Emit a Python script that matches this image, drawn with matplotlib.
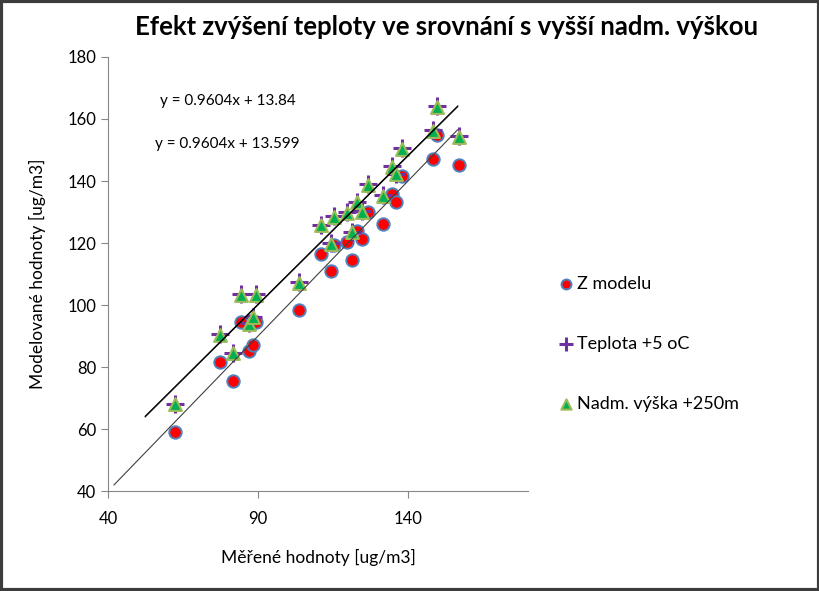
import matplotlib
matplotlib.use("Agg")
from matplotlib import pyplot as plt
from matplotlib.patches import Rectangle
import numpy as np

# measured values [ug/m3]
mereno = [62.4, 77.4, 81.6, 84.3, 87.1, 88.3, 89.4, 103.8, 111.0, 114.3, 115.2, 119.8,
          121.3, 123.1, 124.7, 126.7, 131.7, 134.7, 136.1, 138.0, 148.5, 149.7, 156.9]
z_modelu = [59.2, 81.5, 75.6, 94.5, 85.3, 87.2, 94.5, 98.3, 116.6, 110.9, 119.3, 120.3,
            114.6, 124.0, 121.3, 130.0, 126.2, 135.7, 133.1, 141.7, 147.0, 154.8, 145.1]
teplota_5 = [68.2, 90.7, 84.6, 103.6, 94.1, 96.3, 103.6, 107.3, 125.9, 120.0, 128.6, 130.0,
             123.6, 133.3, 130.3, 139.0, 135.4, 144.8, 142.4, 150.6, 156.4, 164.2, 154.5]
vyska_250 = [68.0, 90.5, 84.4, 103.4, 93.9, 96.1, 103.4, 107.1, 125.7, 119.8, 128.4, 129.8,
             123.4, 133.1, 130.1, 138.8, 135.2, 144.6, 142.2, 150.4, 156.2, 164.0, 154.3]

# trendline coefficients shown in the chart
trend_slope = 0.9604
trend_b = [13.84, 13.599]
trend_x = [52.4, 156.6]
one_to_one_x = [42.0, 156.5]

plt.rcParams['font.family'] = ['Lato', 'DejaVu Sans']

fig = plt.figure(figsize=(8.2, 5.91), dpi=100)
ax = fig.add_axes([0.1317, 0.169, 0.5122, 0.7346])

ax.scatter(mereno, z_modelu, s=80, c='#ff0000', edgecolors='#4f81bd', linewidths=1.4,
           label='Z modelu', zorder=3)
ax.scatter(mereno, teplota_5, s=150, marker='+', c='#7030a0', linewidths=2.2,
           label='Teplota +5 oC', zorder=4)
ax.scatter(mereno, vyska_250, s=85, marker='^', c='#00b050', edgecolors='#9bbb59',
           linewidths=1.5, label='Nadm. výška +250m', zorder=5)

tx = np.array(trend_x)
for b in trend_b:
    ax.plot(tx, trend_slope * tx + b, color='black', lw=0.75, zorder=6)
ox = np.array(one_to_one_x)
ax.plot(ox, ox, color='#404040', lw=0.8, zorder=6)

ax.text(79.8, 165.8, 'y = 0.9604x + 13.84', ha='center', va='center', fontsize=11)
ax.text(79.8, 151.9, 'y = 0.9604x + 13.599', ha='center', va='center', fontsize=11)

ax.set_xlim(40, 180)
ax.set_ylim(40, 180)
ax.set_xticks([40, 90, 140])
ax.set_yticks(range(40, 181, 20))
for s in ['top', 'right']:
    ax.spines[s].set_visible(False)
for s in ['left', 'bottom']:
    ax.spines[s].set_color('#868686')
ax.tick_params(colors='#868686', labelcolor='black', labelsize=12, length=5,
               direction='out')
ax.tick_params(axis='x', pad=9)

ax.set_xlabel('Měřené hodnoty [ug/m3]', fontsize=12.5, labelpad=16)
ax.set_ylabel('Modelované hodnoty [ug/m3]', fontsize=12.5, labelpad=15)
fig.suptitle('Efekt zvýšení teploty ve srovnání s vyšší nadm. výškou',
             x=0.545, y=0.975, fontsize=18.5, fontweight='bold')

fig.legend(loc='center left', bbox_to_anchor=(0.66, 0.418), frameon=False, fontsize=13,
           labelspacing=2.45, handletextpad=0.1, handlelength=1.0, markerscale=0.8)

fig.patches.append(Rectangle((0.0015, 0.002), 0.997, 0.996, transform=fig.transFigure,
                             fill=False, edgecolor='#3c3c3c', lw=3))

fig.savefig('out.png', dpi=100)
